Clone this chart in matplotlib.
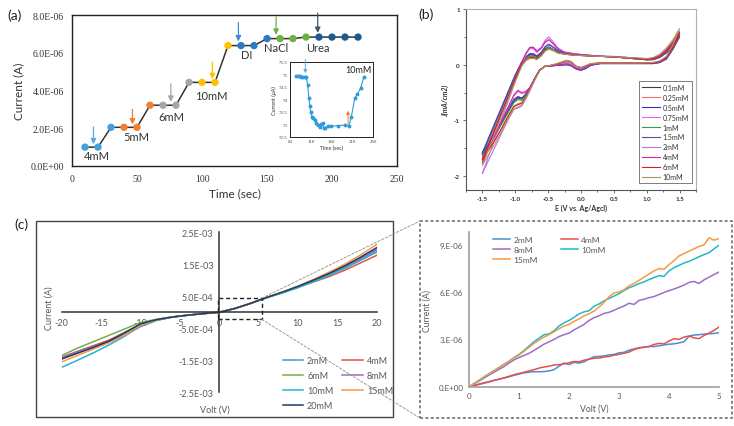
import numpy as np
import matplotlib
matplotlib.use('Agg')
import matplotlib.pyplot as plt
from matplotlib.patches import Rectangle, ConnectionPatch
from matplotlib.ticker import FuncFormatter, MultipleLocator, FixedLocator

plt.rcParams['font.family'] = ['Lato', 'DejaVu Sans']
plt.rcParams['axes.unicode_minus'] = False

# ---------------- (a) amperometric response ----------------
time_a = [10, 20, 30, 40, 50, 60, 70, 80, 90, 100, 110, 120, 130, 140, 150,
          160, 170, 180, 190, 200, 210, 220]
current_a = [1.0, 1.0, 2.05, 2.05, 2.05, 3.22, 3.22, 3.22, 4.43, 4.43, 4.43,
             6.38, 6.38, 6.38, 6.75, 6.75, 6.75, 6.83, 6.83, 6.83, 6.83, 6.83]  # x1e-6 A
step_of_point = ['4mM', '4mM', '4mM', '5mM', '5mM', '5mM', '6mM', '6mM', '6mM',
                 '10mM', '10mM', '10mM', 'DI', 'DI', 'DI', 'NaCl', 'NaCl', 'NaCl',
                 'Urea', 'Urea', 'Urea', 'Urea']
step_names = ['4mM', '5mM', '6mM', '10mM', 'DI', 'NaCl', 'Urea']
step_colors = {'4mM': '#41A2DD', '5mM': '#F27F30', '6mM': '#A6A6A6', '10mM': '#FFC000',
               'DI': '#2E78C2', 'NaCl': '#6DB043', 'Urea': '#1E5A8E'}
arrow_colors = {'4mM': '#5AA9E0', '5mM': '#F07F2C', '6mM': '#A6A6A6', '10mM': '#FFC000',
                'DI': '#3E8BD4', 'NaCl': '#6DB043', 'Urea': '#44546A'}
a_xticks = [0, 50, 100, 150, 200, 250]
a_yticks = [0, 2e-6, 4e-6, 6e-6, 8e-6]

# inset: 10mM detail
ins_t = [75, 79, 83, 87, 91, 95, 99, 102.6, 105.5, 107.9, 110, 113.3, 115.6, 119.6,
         123.6, 127.7, 131.7, 135.7, 139.7, 141, 145, 151.6, 159.6, 175.7, 191.8,
         202.3, 207.9, 216, 222, 230, 238]
ins_i = [74.95, 74.93, 74.92, 74.91, 74.9, 74.9, 74.9, 74.57, 74.07, 73.73, 73.48,
         73.32, 73.25, 73.18, 73.07, 72.97, 72.9, 73.0, 73.04, 72.84, 72.88, 72.93,
         72.93, 72.95, 72.98, 72.95, 73.32, 74.05, 74.2, 74.45, 74.9]
ins_xticks = [60, 110, 160, 210, 260]
ins_yticks = [72.5, 73, 73.5, 74, 74.5, 75, 75.5]

# ---------------- (b) cyclic voltammetry ----------------
cv_labels = ['0.1mM', '0.25mM', '0.5mM', '0.75mM', '1mM', '1.5mM', '2mM', '4mM', '6mM', '10mM']
cv_colors = ['#3C3C3C', '#F07070', '#3030C8', '#FF55FF', '#30A050', '#5050A8',
             '#C070F0', '#D02898', '#D02020', '#A89858']
E_up = [-1.5, -1.4, -1.3, -1.2, -1.1, -1.0, -0.9, -0.84, -0.78, -0.73, -0.67, -0.6,
        -0.55, -0.49, -0.43, -0.35, -0.25, -0.1, 0.1, 0.3, 0.5, 0.7, 0.9, 1.0, 1.1,
        1.2, 1.3, 1.4, 1.5]
E_dn = [1.4, 1.3, 1.2, 1.1, 0.9, 0.6, 0.3, 0.15, 0.07, 0.0, -0.07, -0.15, -0.22,
        -0.32, -0.45, -0.55, -0.63, -0.7, -0.77, -0.84, -0.9, -0.96, -1.02, -1.1,
        -1.2, -1.3, -1.4, -1.5]
J_up = [
    [-1.60, -1.32, -1.04, -0.76, -0.48, -0.20, 0.04, 0.13, 0.18, 0.18, 0.14, 0.20, 0.28, 0.32, 0.28, 0.23, 0.20, 0.18, 0.16, 0.15, 0.14, 0.12, 0.10, 0.09, 0.10, 0.15, 0.24, 0.38, 0.55],
    [-1.70, -1.42, -1.12, -0.83, -0.53, -0.24, 0.02, 0.12, 0.17, 0.17, 0.13, 0.19, 0.26, 0.30, 0.27, 0.22, 0.19, 0.17, 0.16, 0.15, 0.14, 0.13, 0.11, 0.10, 0.11, 0.16, 0.26, 0.40, 0.58],
    [-1.58, -1.30, -1.02, -0.74, -0.46, -0.18, 0.05, 0.14, 0.18, 0.18, 0.15, 0.22, 0.31, 0.36, 0.32, 0.25, 0.21, 0.19, 0.17, 0.15, 0.14, 0.12, 0.10, 0.09, 0.09, 0.13, 0.21, 0.34, 0.50],
    [-1.66, -1.37, -1.08, -0.79, -0.50, -0.20, 0.06, 0.20, 0.29, 0.29, 0.22, 0.30, 0.40, 0.45, 0.39, 0.28, 0.22, 0.19, 0.17, 0.15, 0.14, 0.12, 0.10, 0.09, 0.10, 0.15, 0.23, 0.37, 0.55],
    [-1.62, -1.34, -1.05, -0.77, -0.48, -0.20, 0.03, 0.11, 0.15, 0.15, 0.12, 0.18, 0.26, 0.30, 0.27, 0.22, 0.19, 0.17, 0.16, 0.15, 0.14, 0.12, 0.10, 0.09, 0.10, 0.14, 0.22, 0.35, 0.50],
    [-1.60, -1.31, -1.03, -0.75, -0.47, -0.19, 0.05, 0.14, 0.20, 0.20, 0.16, 0.23, 0.32, 0.37, 0.32, 0.25, 0.21, 0.19, 0.17, 0.15, 0.14, 0.12, 0.10, 0.09, 0.09, 0.14, 0.22, 0.36, 0.52],
    [-1.95, -1.62, -1.29, -0.96, -0.63, -0.30, 0.00, 0.18, 0.30, 0.32, 0.25, 0.32, 0.43, 0.50, 0.42, 0.30, 0.23, 0.20, 0.17, 0.16, 0.15, 0.13, 0.11, 0.10, 0.11, 0.17, 0.27, 0.42, 0.60],
    [-1.75, -1.45, -1.15, -0.85, -0.55, -0.24, 0.04, 0.20, 0.31, 0.31, 0.24, 0.30, 0.40, 0.45, 0.38, 0.28, 0.22, 0.19, 0.17, 0.15, 0.14, 0.12, 0.10, 0.09, 0.10, 0.15, 0.24, 0.38, 0.55],
    [-1.70, -1.42, -1.13, -0.84, -0.55, -0.26, 0.00, 0.09, 0.13, 0.13, 0.11, 0.17, 0.25, 0.28, 0.26, 0.21, 0.19, 0.17, 0.16, 0.15, 0.14, 0.13, 0.11, 0.10, 0.11, 0.16, 0.26, 0.40, 0.58],
    [-1.80, -1.50, -1.20, -0.90, -0.60, -0.30, -0.02, 0.07, 0.11, 0.11, 0.09, 0.16, 0.24, 0.28, 0.26, 0.21, 0.19, 0.17, 0.16, 0.15, 0.14, 0.13, 0.12, 0.11, 0.13, 0.19, 0.30, 0.45, 0.65],
]
J_dn = [
    [0.30, 0.12, 0.05, 0.03, 0.03, 0.03, 0.03, 0.00, -0.05, -0.08, -0.06, 0.00, 0.02, 0.00, -0.02, -0.03, -0.10, -0.24, -0.40, -0.54, -0.62, -0.60, -0.66, -0.82, -1.04, -1.25, -1.43, -1.60],
    [0.32, 0.13, 0.06, 0.03, 0.03, 0.03, 0.03, 0.02, -0.03, -0.06, -0.04, 0.03, 0.05, 0.02, -0.01, -0.03, -0.10, -0.25, -0.42, -0.58, -0.68, -0.70, -0.74, -0.90, -1.12, -1.33, -1.52, -1.70],
    [0.28, 0.10, 0.04, 0.02, 0.02, 0.02, 0.02, -0.01, -0.07, -0.10, -0.08, -0.02, 0.00, -0.01, -0.02, -0.03, -0.10, -0.24, -0.40, -0.53, -0.60, -0.58, -0.63, -0.80, -1.02, -1.23, -1.41, -1.58],
    [0.30, 0.12, 0.05, 0.03, 0.03, 0.03, 0.03, 0.00, -0.05, -0.08, -0.06, 0.00, 0.02, 0.00, -0.02, -0.03, -0.10, -0.24, -0.40, -0.50, -0.52, -0.48, -0.56, -0.75, -0.98, -1.22, -1.44, -1.66],
    [0.28, 0.11, 0.05, 0.03, 0.03, 0.03, 0.03, 0.00, -0.05, -0.08, -0.06, 0.00, 0.02, 0.00, -0.02, -0.03, -0.10, -0.24, -0.40, -0.55, -0.64, -0.63, -0.68, -0.84, -1.05, -1.26, -1.45, -1.62],
    [0.29, 0.11, 0.04, 0.02, 0.02, 0.02, 0.02, -0.01, -0.07, -0.10, -0.08, -0.02, 0.00, -0.01, -0.02, -0.03, -0.10, -0.24, -0.40, -0.53, -0.60, -0.57, -0.62, -0.79, -1.01, -1.23, -1.42, -1.60],
    [0.33, 0.14, 0.06, 0.04, 0.03, 0.03, 0.03, 0.01, -0.04, -0.07, -0.05, 0.02, 0.04, 0.01, -0.01, -0.03, -0.11, -0.27, -0.45, -0.62, -0.74, -0.78, -0.80, -0.97, -1.21, -1.46, -1.70, -1.95],
    [0.30, 0.12, 0.05, 0.03, 0.03, 0.03, 0.03, 0.00, -0.05, -0.09, -0.07, -0.01, 0.01, 0.00, -0.02, -0.03, -0.10, -0.24, -0.40, -0.48, -0.50, -0.46, -0.54, -0.74, -0.99, -1.24, -1.50, -1.75],
    [0.32, 0.13, 0.06, 0.03, 0.03, 0.03, 0.03, 0.02, -0.02, -0.05, -0.03, 0.05, 0.07, 0.03, -0.01, -0.03, -0.10, -0.25, -0.42, -0.58, -0.69, -0.72, -0.75, -0.91, -1.13, -1.34, -1.52, -1.70],
    [0.36, 0.15, 0.07, 0.04, 0.03, 0.03, 0.03, 0.02, -0.02, -0.05, -0.03, 0.06, 0.08, 0.04, -0.01, -0.03, -0.11, -0.26, -0.43, -0.60, -0.72, -0.76, -0.79, -0.95, -1.18, -1.40, -1.60, -1.80],
]

# ---------------- (c) I-V curves ----------------
iv_labels = ['2mM', '4mM', '6mM', '8mM', '10mM', '15mM', '20mM']
iv_colors = {'2mM': '#4A8FD0', '4mM': '#E8504A', '6mM': '#72B04A', '8mM': '#9B6FC2',
             '10mM': '#1FB8CC', '15mM': '#F59A45', '20mM': '#203C66'}
volt = [-20, -18, -16, -14, -12, -10, -8, -6, -4, -2, 0, 2, 4, 6, 8, 10, 12, 14, 16, 18, 20]
iv_current = {  # mA
    '2mM':  [-1.40, -1.22, -1.05, -0.88, -0.62, -0.38, -0.24, -0.15, -0.09, -0.04, 0, 0.12, 0.28, 0.46, 0.62, 0.80, 0.99, 1.20, 1.43, 1.70, 1.97],
    '4mM':  [-1.42, -1.23, -1.05, -0.87, -0.64, -0.38, -0.24, -0.15, -0.09, -0.04, 0, 0.12, 0.28, 0.46, 0.62, 0.78, 0.95, 1.12, 1.32, 1.55, 1.78],
    '6mM':  [-1.35, -1.12, -0.92, -0.72, -0.52, -0.32, -0.22, -0.14, -0.09, -0.04, 0, 0.12, 0.28, 0.46, 0.62, 0.79, 0.97, 1.17, 1.39, 1.64, 1.90],
    '8mM':  [-1.45, -1.25, -1.08, -0.92, -0.72, -0.45, -0.26, -0.15, -0.09, -0.04, 0, 0.12, 0.28, 0.46, 0.62, 0.80, 0.99, 1.19, 1.42, 1.68, 1.95],
    '10mM': [-1.72, -1.50, -1.27, -1.02, -0.75, -0.42, -0.25, -0.15, -0.09, -0.04, 0, 0.12, 0.28, 0.45, 0.60, 0.77, 0.96, 1.16, 1.38, 1.63, 1.88],
    '15mM': [-1.55, -1.35, -1.15, -0.95, -0.72, -0.40, -0.24, -0.15, -0.09, -0.04, 0, 0.12, 0.28, 0.46, 0.63, 0.82, 1.03, 1.26, 1.51, 1.80, 2.12],
    '20mM': [-1.46, -1.28, -1.10, -0.90, -0.65, -0.36, -0.23, -0.15, -0.09, -0.04, 0, 0.12, 0.28, 0.46, 0.63, 0.81, 1.01, 1.22, 1.46, 1.73, 2.02],
}

# zoom of 0-5 V
zoom_labels = ['2mM', '4mM', '8mM', '10mM', '15mM']
zoom_volt = [0.0, 0.1, 0.2, 0.3, 0.4, 0.5, 0.6, 0.7, 0.8, 0.9, 1.0, 1.1, 1.2, 1.3, 1.4, 1.5,
             1.6, 1.7, 1.8, 1.9, 2.0, 2.1, 2.2, 2.3, 2.4, 2.5, 2.6, 2.7, 2.8, 2.9, 3.0, 3.1,
             3.2, 3.3, 3.4, 3.5, 3.6, 3.7, 3.8, 3.9, 4.0, 4.1, 4.2, 4.3, 4.4, 4.5, 4.6, 4.7,
             4.8, 4.9, 5.0]
zoom_current = {  # uA
    '2mM': [0.00, 0.08, 0.17, 0.25, 0.32, 0.40, 0.47, 0.55, 0.63, 0.72, 0.80, 0.88, 0.92, 0.95, 0.95, 0.96, 1.00,
            1.08, 1.30, 1.50, 1.40, 1.55, 1.50, 1.58, 1.75, 1.90, 1.92, 1.95, 2.02, 2.05, 2.15, 2.18, 2.32, 2.40,
            2.48, 2.52, 2.55, 2.55, 2.60, 2.65, 2.70, 2.72, 2.78, 2.85, 3.20, 3.28, 3.30, 3.34, 3.36, 3.38, 3.42],
    '4mM': [0.00, 0.06, 0.14, 0.22, 0.30, 0.40, 0.48, 0.56, 0.66, 0.76, 0.84, 0.92, 1.00, 1.08, 1.18, 1.25, 1.30,
            1.38, 1.40, 1.45, 1.52, 1.60, 1.58, 1.68, 1.75, 1.80, 1.82, 1.88, 1.92, 2.00, 2.05, 2.12, 2.20, 2.35,
            2.45, 2.50, 2.55, 2.68, 2.75, 2.72, 2.90, 3.05, 3.00, 3.15, 3.22, 3.10, 3.05, 3.25, 3.40, 3.58, 3.78],
    '8mM': [0.00, 0.18, 0.36, 0.55, 0.74, 0.92, 1.10, 1.28, 1.50, 1.70, 1.85, 1.98, 2.12, 2.30, 2.50, 2.70, 2.85,
            3.00, 3.18, 3.30, 3.40, 3.60, 3.78, 3.95, 4.20, 4.38, 4.50, 4.65, 4.72, 4.85, 5.00, 5.12, 5.30, 5.22,
            5.48, 5.55, 5.65, 5.72, 5.85, 5.98, 6.10, 6.20, 6.32, 6.45, 6.62, 6.68, 6.55, 6.78, 6.95, 7.12, 7.28],
    '10mM': [0.00, 0.20, 0.40, 0.62, 0.82, 1.02, 1.22, 1.42, 1.62, 1.85, 2.05, 2.30, 2.58, 2.85, 3.08, 3.30, 3.35,
             3.55, 3.85, 4.05, 4.20, 4.40, 4.62, 4.75, 4.82, 5.10, 5.25, 5.45, 5.60, 5.75, 5.90, 6.10, 6.28, 6.40,
             6.55, 6.65, 6.80, 6.92, 7.05, 7.00, 7.35, 7.55, 7.70, 7.85, 7.95, 8.10, 8.25, 8.38, 8.50, 8.75, 8.98],
    '15mM': [0.00, 0.20, 0.42, 0.62, 0.82, 1.02, 1.22, 1.42, 1.62, 1.82, 2.00, 2.25, 2.50, 2.75, 2.95, 3.15, 3.30,
             3.48, 3.68, 3.85, 3.95, 4.15, 4.30, 4.50, 4.62, 4.80, 5.05, 5.35, 5.70, 5.95, 6.00, 6.15, 6.40, 6.55,
             6.75, 6.95, 7.15, 7.35, 7.50, 7.45, 7.75, 8.00, 8.30, 8.45, 8.60, 8.75, 8.90, 9.00, 9.45, 9.30, 9.40],
}

W, H = 734, 427


def fx(px):
    return px / W


def fy(py):
    return 1 - py / H


fig = plt.figure(figsize=(7.34, 4.27), dpi=100)
fig.patch.set_facecolor('white')

# ================= panel (a) =================
ax_a = fig.add_axes([fx(72), fy(167), fx(397) - fx(72), fy(16) - fy(167)])
ax_a.plot(time_a, np.array(current_a) * 1e-6, color='#333333', lw=1.1, zorder=2)
ax_a.scatter(time_a, np.array(current_a) * 1e-6, s=28,
             c=[step_colors[s] for s in step_of_point], zorder=3, linewidths=0)
ax_a.set_xlim(0, 250)
ax_a.set_ylim(0, 8e-6)
ax_a.set_xticks(a_xticks, labels=[str(v) for v in a_xticks],
                fontfamily='Liberation Serif')
ax_a.set_yticks(a_yticks, labels=[f"{v:.1E}" for v in a_yticks],
                fontfamily='Liberation Serif')
ax_a.tick_params(length=0, labelsize=7, pad=6, labelcolor='#333333')
for sp in ax_a.spines.values():
    sp.set_color('#222222')
    sp.set_linewidth(1.0)
ax_a.set_xlabel('Time (sec)', fontsize=8.5, color='#333333', labelpad=3)
ax_a.set_ylabel('Current (A)', fontsize=8.5, color='#333333', labelpad=4)

arrow_spec = {'4mM': (16.5, 2.07, 1.15), '5mM': (46.5, 3.0, 2.2), '6mM': (76, 4.35, 3.4),
              '10mM': (108, 5.5, 4.6), 'DI': (128, 7.6, 6.6), 'NaCl': (157, 7.9, 6.95),
              'Urea': (189, 8.1, 7.05)}
label_spec = {'4mM': (19, 0.55), '5mM': (49.5, 1.57), '6mM': (76.5, 2.63), '10mM': (107, 3.72),
              'DI': (134, 5.93), 'NaCl': (157, 6.29), 'Urea': (189, 6.29)}
for name in step_names:
    t, top, tip = arrow_spec[name]
    ax_a.annotate('', xy=(t, tip * 1e-6), xytext=(t, top * 1e-6), annotation_clip=False,
                  arrowprops=dict(arrowstyle='-|>', color=arrow_colors[name], lw=0.9,
                                  mutation_scale=8, shrinkA=0, shrinkB=0))
    lx, ly = label_spec[name]
    ax_a.text(lx, ly * 1e-6, name, ha='center', va='center', fontsize=8, color='#333333')

# inset
ax_i = fig.add_axes([fx(290), fy(138), fx(373) - fx(290), fy(63) - fy(138)])
ax_i.plot(ins_t, ins_i, color='#2F9BDB', lw=0.8, marker='o', ms=1.8, zorder=3)
ax_i.set_xlim(60, 260)
ax_i.set_ylim(72.5, 75.5)
ax_i.set_xticks(ins_xticks, labels=[str(v) for v in ins_xticks],
                fontfamily='Liberation Serif')
ax_i.set_yticks(ins_yticks, labels=[f"{v:g}" for v in ins_yticks],
                fontfamily='Liberation Serif')
ax_i.tick_params(length=0, labelsize=3.5, pad=1.5, labelcolor='#444444')
ax_i.set_xlabel('Time (sec)', fontsize=3.8, labelpad=1.5, color='#333333')
ax_i.set_ylabel('Current (\u03bcA)', fontsize=3.8, labelpad=1.5, color='#333333')
for sp in ax_i.spines.values():
    sp.set_linewidth(0.7)
    sp.set_color('#222222')
ax_i.annotate('', xy=(97, 75.05), xytext=(97, 75.6), annotation_clip=False,
              arrowprops=dict(arrowstyle='-|>', color='#5AA9E0', lw=0.7, mutation_scale=5,
                              shrinkA=0, shrinkB=0))
ax_i.annotate('', xy=(200, 73.55), xytext=(200, 73.02),
              arrowprops=dict(arrowstyle='-|>', color='#F07F2C', lw=0.7, mutation_scale=5,
                              shrinkA=0, shrinkB=0))
ax_i.text(225, 75.2, '10mM', fontsize=6.5, ha='center', va='center', color='#222222')

fig.text(fx(7), fy(16), '(a)', fontsize=10, va='center', ha='left', color='#222222')

# ================= panel (b) =================
ax_b = fig.add_axes([fx(466), fy(191), fx(696) - fx(466), fy(10) - fy(191)])
for lab, col, ju, jd in zip(cv_labels, cv_colors, J_up, J_dn):
    ax_b.plot(E_up + E_dn, ju + jd, color=col, lw=0.8, label=lab)
ax_b.set_xlim(-1.75, 1.75)
ax_b.set_ylim(-2.25, 1.0)
ax_b.xaxis.set_major_locator(MultipleLocator(0.5))
ax_b.xaxis.set_minor_locator(MultipleLocator(0.25))
ax_b.yaxis.set_major_locator(FixedLocator([-2, -1, 0, 1]))
ax_b.yaxis.set_minor_locator(MultipleLocator(0.5))
ax_b.xaxis.set_major_formatter(FuncFormatter(lambda v, p: f"{v:.1f}"))
ax_b.yaxis.set_major_formatter(FuncFormatter(lambda v, p: f"{v:.0f}"))
ax_b.tick_params(which='both', direction='out', width=0.6, color='#555555')
ax_b.tick_params(which='major', length=2.5, labelsize=4.5, pad=2, labelcolor='#333333')
ax_b.tick_params(which='minor', length=1.5)
for lab in ax_b.get_xticklabels() + ax_b.get_yticklabels():
    lab.set_fontweight('bold')
for side in ['left', 'bottom']:
    ax_b.spines[side].set_color('#555555')
    ax_b.spines[side].set_linewidth(0.8)
for side in ['top', 'right']:
    ax_b.spines[side].set_color('#B0B0B0')
    ax_b.spines[side].set_linewidth(0.8)
ax_b.set_xlabel('E (V vs. Ag/Agcl)', fontsize=5, fontweight='bold', labelpad=2, color='#333333')
ax_b.set_ylabel('J(mA/cm2)', fontsize=5, fontweight='bold', style='italic', labelpad=3,
                color='#333333')
leg_b = ax_b.legend(loc='lower left', bbox_to_anchor=(0.752, 0.039), borderaxespad=0,
                    fontsize=5, frameon=True, fancybox=False, labelspacing=0.42,
                    handlelength=2.6, handletextpad=0.4, borderpad=0.4)
leg_b.get_frame().set_edgecolor('#444444')
leg_b.get_frame().set_linewidth(0.6)
for t in leg_b.get_texts():
    t.set_color('#333333')

fig.text(fx(418), fy(15), '(b)', fontsize=10, va='center', ha='left', color='#222222')

# ================= panel (c) main =================
fig.add_artist(Rectangle((fx(36), fy(418)), fx(393) - fx(36), fy(222) - fy(418),
                         transform=fig.transFigure, fill=False, ec='#444444', lw=1.0))
ax_c = fig.add_axes([fx(61.7), fy(393.3), fx(376.7) - fx(61.7), fy(233.3) - fy(393.3)])
for lab in iv_labels:
    ax_c.plot(volt, np.array(iv_current[lab]) * 1e-3, color=iv_colors[lab], lw=1.1, label=lab)
ax_c.set_xlim(-20, 20)
ax_c.set_ylim(-2.5e-3, 2.5e-3)
ax_c.set_xticks(range(-20, 21, 5))
ax_c.set_yticks([-2.5e-3, -1.5e-3, -0.5e-3, 0.5e-3, 1.5e-3, 2.5e-3])
ax_c.yaxis.set_major_formatter(FuncFormatter(lambda v, p: f"{v:.1E}"))
ax_c.spines['left'].set_position(('data', 0))
ax_c.spines['bottom'].set_position(('data', 0))
ax_c.spines['top'].set_visible(False)
ax_c.spines['right'].set_visible(False)
for side in ['left', 'bottom']:
    ax_c.spines[side].set_color('#333333')
    ax_c.spines[side].set_linewidth(1.1)
ax_c.tick_params(length=0, labelsize=6.5, labelcolor='#595959', pad=4)
ax_c.patch.set_alpha(0)
ax_c.add_patch(Rectangle((-0.1, -0.22e-3), 5.5, 0.66e-3, fill=False, ls=(0, (3, 2)),
                         lw=1.0, ec='#222222', zorder=5))
handles, labels = ax_c.get_legend_handles_labels()
order = [0, 2, 4, 6, 1, 3, 5]
ax_c.legend([handles[i] for i in order], [labels[i] for i in order], ncol=2,
            loc='upper left', bbox_to_anchor=(0.69, 0.25), borderaxespad=0, frameon=False,
            fontsize=6.5, labelspacing=0.68, handlelength=2.3, handletextpad=0.4,
            columnspacing=1.0, labelcolor='#595959')
fig.text(fx(49), fy(308), 'Current (A)', rotation=90, fontsize=6.5, color='#595959',
         ha='center', va='center')
fig.text(fx(215), fy(410), 'Volt (V)', fontsize=6.5, color='#595959', ha='center', va='center')
fig.text(fx(14), fy(225), '(c)', fontsize=10, va='center', ha='left', color='#222222')

# ================= panel (c) zoom =================
fig.add_artist(Rectangle((fx(420), fy(419)), fx(732) - fx(420), fy(222) - fy(419),
                         transform=fig.transFigure, fill=False, ec='#666666', lw=1.1,
                         ls=(0, (2, 1.5))))
ax_z = fig.add_axes([fx(469), fy(387.7), fx(719) - fx(469), fy(233.3) - fy(387.7)])
for lab in zoom_labels:
    ax_z.plot(zoom_volt, np.array(zoom_current[lab]) * 1e-6, color=iv_colors[lab], lw=1.1,
              label=lab)
ax_z.set_xlim(0, 5)
ax_z.set_ylim(0, 9.8e-6)
ax_z.set_xticks(range(0, 6))
ax_z.set_yticks([0, 3e-6, 6e-6, 9e-6])
ax_z.yaxis.set_major_formatter(FuncFormatter(lambda v, p: f"{v:.0E}".replace('E', '.E')))
ax_z.spines['top'].set_visible(False)
ax_z.spines['right'].set_visible(False)
for side in ['left', 'bottom']:
    ax_z.spines[side].set_color('#A6A6A6')
    ax_z.spines[side].set_linewidth(1.3)
ax_z.tick_params(length=0, labelsize=5.8, labelcolor='#595959', pad=4)
ax_z.set_xlabel('Volt (V)', fontsize=6.2, color='#595959', labelpad=3)
ax_z.set_ylabel('Current (A)', fontsize=6.2, color='#595959', labelpad=5)
hz, lz = ax_z.get_legend_handles_labels()
order_z = [0, 2, 4, 1, 3]
ax_z.legend([hz[i] for i in order_z], [lz[i] for i in order_z], ncol=2, loc='upper left',
            bbox_to_anchor=(0.09, 0.985), borderaxespad=0, frameon=False, fontsize=6.0,
            labelspacing=0.35, handlelength=2.0, handletextpad=0.4, columnspacing=2.8,
            borderpad=0.2, labelcolor='#595959')

# connectors from the small dashed box to the zoom box
for ya, fyb in [(0.44e-3, fy(222)), (-0.22e-3, fy(419))]:
    con = ConnectionPatch(xyA=(5.4, ya), coordsA=ax_c.transData,
                          xyB=(fx(420), fyb), coordsB=fig.transFigure,
                          ls=(0, (3, 2)), color='#8C8C8C', lw=0.6)
    fig.add_artist(con)

fig.savefig('out.png', dpi=100)
